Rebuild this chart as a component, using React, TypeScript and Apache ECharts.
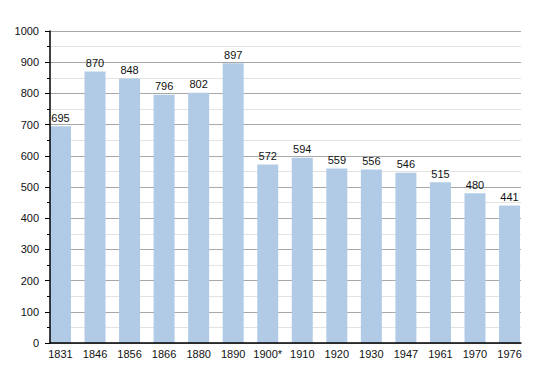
import React, { useEffect, useRef } from "react";
import * as echarts from "echarts";

const categories = ["1831", "1846", "1856", "1866", "1880", "1890", "1900*", "1910", "1920", "1930", "1947", "1961", "1970", "1976"];
const population = [695, 870, 848, 796, 802, 897, 572, 594, 559, 556, 546, 515, 480, 441];

export default function App() {
  const ref = useRef<HTMLDivElement>(null);
  useEffect(() => {
    if (!ref.current) return;
    const chart = echarts.init(ref.current, null, { renderer: "svg" });
    const font = "'Liberation Sans', Arial, sans-serif";
    chart.setOption({
      animation: false,
      backgroundColor: "#ffffff",
      grid: [
        { left: 50, right: 29, top: 31, bottom: 30 },
        { left: 43.2, right: 23.2, top: 31, bottom: 30 },
      ],
      xAxis: [
        {
          type: "value",
          gridIndex: 0,
          min: 0,
          max: 1,
          axisLabel: { show: false },
          axisTick: { show: false },
          splitLine: { show: false },
          axisLine: { show: true, lineStyle: { color: "#000", width: 1.5 } },
          z: 10,
        },
        {
          type: "category",
          gridIndex: 1,
          data: categories,
          axisLine: { show: false },
          axisTick: { show: false },
          axisLabel: { color: "#111", fontSize: 11, fontFamily: font, margin: 5, interval: 0 },
        },
      ],
      yAxis: [
        {
          type: "value",
          gridIndex: 0,
          position: "left",
          min: 0,
          max: 1000,
          interval: 100,
          axisLine: { show: false },
          axisTick: { show: false },
          axisLabel: { show: false },
          minorTick: { show: false, splitNumber: 2 },
          splitLine: { show: true, lineStyle: { color: "#a8a8a8", width: 1 } },
          minorSplitLine: { show: true, lineStyle: { color: "#e2e2e2", width: 1 } },
          z: 0,
        },
        {
          type: "value",
          gridIndex: 1,
          min: 0,
          max: 1000,
          show: false,
          splitLine: { show: false },
        },
        {
          type: "value",
          gridIndex: 0,
          position: "left",
          offset: 0,
          min: 0,
          max: 1000,
          interval: 100,
          axisLine: { show: true, onZero: false, lineStyle: { color: "#000", width: 1.5 } },
          axisTick: { show: true, length: 5, lineStyle: { color: "#000" } },
          minorTick: { show: true, splitNumber: 2, length: 3, lineStyle: { color: "#000" } },
          axisLabel: { color: "#111", fontSize: 11, fontFamily: font, margin: 11, formatter: (v: number) => String(v) },
          splitLine: { show: false },
          z: 10,
        },
      ],
      series: [
        {
          type: "bar",
          xAxisIndex: 1,
          yAxisIndex: 1,
          data: population,
          barWidth: 21,
          itemStyle: { color: "#b1cbe6" },
          label: {
            show: true,
            position: "top",
            distance: 3,
            color: "#111",
            fontSize: 11,
            fontFamily: font,
          },
        },
      ],
    });
    return () => chart.dispose();
  }, []);
  return <div ref={ref} style={{ position: "fixed", left: 0, top: 0, width: 550, height: 373 }} />;
}
